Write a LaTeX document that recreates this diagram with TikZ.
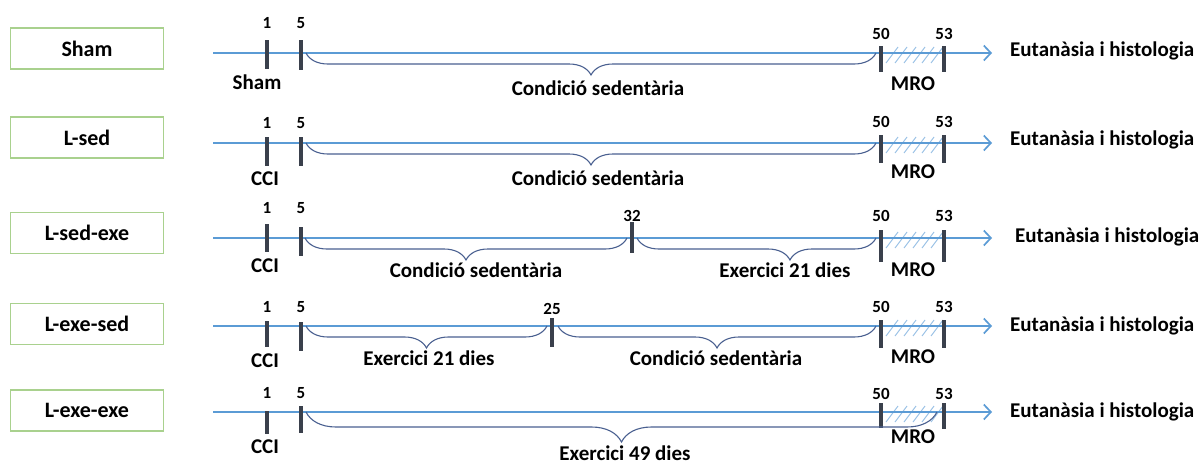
\documentclass[tikz,border=0pt]{standalone}
\usepackage{fontspec}
\setmainfont{Carlito}
\usetikzlibrary{arrows.meta,decorations.pathreplacing}

\definecolor{axisblue}{HTML}{5B9BD5}
\definecolor{hatchblue}{HTML}{9DC3E6}
\definecolor{tickgray}{HTML}{3A404C}
\definecolor{bracegray}{HTML}{4A6090}
\definecolor{boxgreen}{HTML}{A9D18E}

% day tick: name, x, top, bottom, label, label y
\newcommand{\daytick}[6]{%
  \draw[tick] (#2,#3) coordinate (#1a) -- (#2,#4) coordinate (#1b);
  \node[num] (#1n) at (#2,#6) {#5};}
% MRO hatch between day 50 and day 53, centre line y
\newcommand{\mrohatch}[1]{%
  \foreach \h in {0,...,5} {\draw[hatch] (886+\h*9,#1+10) -- (898+\h*9,#1-6);}}

\begin{document}
\begin{tikzpicture}[x=1pt,y=-1pt,
  axis/.style={draw=axisblue, line width=1.7pt, -{Straight Barb[length=7pt,width=15pt,line width=1.7pt]}},
  tick/.style={draw=tickgray, line width=3.2pt},
  hatch/.style={draw=hatchblue, line width=1pt},
  brc/.style={draw=bracegray, line width=1.1pt, decorate, decoration={brace, mirror, amplitude=#1}},
  brc/.default=22pt,
  grp/.style={draw=boxgreen, line width=1.6pt, fill=white, minimum width=153pt, minimum height=41pt, font=\fontsize{22}{26}\selectfont\bfseries},
  txt/.style={font=\fontsize{21}{25}\selectfont\bfseries, inner sep=0pt},
  num/.style={font=\fontsize{17}{20}\selectfont\bfseries, inner sep=0pt}]
\useasboundingbox (0,0) rectangle (1203,464);

%%%%%%%%%% Sham
\node[grp] (g1) at (87,48.5) {Sham};
\mrohatch{53}
\draw[axis] (213,53) coordinate (s1) -- (992,53) coordinate (e1);
\node[txt, anchor=west] (h1) at (1010,51) {Eutanàsia i histologia};
\daytick{r1d1}{267}{40}{69}{1}{23}
\daytick{r1d5}{301}{40}{70}{5}{23}
\daytick{r1d50}{881}{46}{72}{50}{34}
\daytick{r1d53}{944}{46}{72}{53}{34}
\node[txt] (ev1) at (257,82) {Sham};
\node[txt] (m1) at (913,84) {MRO};
\coordinate (b1a) at (306,53); \coordinate (b1b) at (876,53);
\draw[brc] (b1a) -- (b1b);
\node[txt] (c1) at (598,88) {Condició sedentària};

%%%%%%%%%% L-sed
\node[grp] (g2) at (87,137.5) {L-sed};
\mrohatch{143}
\draw[axis] (213,143) coordinate (s2) -- (992,143) coordinate (e2);
\node[txt, anchor=west] (h2) at (1010,140) {Eutanàsia i histologia};
\daytick{r2d1}{267}{137}{166}{1}{123}
\daytick{r2d5}{301}{137}{166}{5}{123}
\daytick{r2d50}{881}{135}{163}{50}{122}
\daytick{r2d53}{944}{135}{163}{53}{122}
\node[txt] (ev2) at (265,179) {CCI};
\node[txt] (m2) at (913,172) {MRO};
\coordinate (b2a) at (306,143); \coordinate (b2b) at (876,143);
\draw[brc] (b2a) -- (b2b);
\node[txt] (c2) at (598,178) {Condició sedentària};

%%%%%%%%%% L-sed-exe
\node[grp] (g3) at (87,233) {L-sed-exe};
\mrohatch{238}
\draw[axis] (213,238) coordinate (s3) -- (992,238) coordinate (e3);
\node[txt, anchor=west] (h3) at (1015,237) {Eutanàsia i histologia};
\daytick{r3d1}{267}{224}{252}{1}{208}
\daytick{r3d5}{301}{227}{256}{5}{208}
\daytick{r3d32}{632}{222}{253}{32}{216}
\daytick{r3d50}{881}{230}{262}{50}{216}
\daytick{r3d53}{944}{230}{262}{53}{216}
\node[txt] (ev3) at (265,266) {CCI};
\node[txt] (m3) at (913,270) {MRO};
\coordinate (b3a) at (305,238); \coordinate (b3b) at (627,238);
\coordinate (b3c) at (637,238); \coordinate (b3d) at (876,238);
\draw[brc] (b3a) -- (b3b);
\draw[brc, decoration={aspect=0.64}] (b3c) -- (b3d);
\node[txt] (c3) at (476,270) {Condició sedentària};
\node[txt] (x3) at (785,270) {Exercici 21 dies};

%%%%%%%%%% L-exe-sed
\node[grp] (g4) at (87,324) {L-exe-sed};
\mrohatch{326}
\draw[axis] (213,326) coordinate (s4) -- (992,326) coordinate (e4);
\node[txt, anchor=west] (h4) at (1010,326) {Eutanàsia i histologia};
\daytick{r4d1}{267}{321}{347}{1}{307}
\daytick{r4d5}{301}{322}{351}{5}{307}
\daytick{r4d25}{552}{318}{347}{25}{309}
\daytick{r4d50}{881}{320}{348}{50}{307}
\daytick{r4d53}{944}{320}{348}{53}{307}
\node[txt] (ev4) at (265,361) {CCI};
\node[txt] (m4) at (913,357) {MRO};
\coordinate (b4a) at (306,326); \coordinate (b4b) at (547,326);
\coordinate (b4c) at (558,326); \coordinate (b4d) at (876,326);
\draw[brc] (b4a) -- (b4b);
\draw[brc] (b4c) -- (b4d);
\node[txt] (x4) at (429,358) {Exercici 21 dies};
\node[txt] (c4) at (716,358) {Condició sedentària};

%%%%%%%%%% L-exe-exe
\node[grp] (g5) at (87,410.5) {L-exe-exe};
\mrohatch{412}
\draw[axis] (213,412) coordinate (s5) -- (992,412) coordinate (e5);
\node[txt, anchor=west] (h5) at (1010,412) {Eutanàsia i histologia};
\daytick{r5d1}{267}{411}{434}{1}{393}
\daytick{r5d5}{301}{406}{433}{5}{393}
\daytick{r5d50}{881}{403}{428}{50}{394}
\daytick{r5d53}{944}{403}{429}{53}{394}
\node[txt] (ev5) at (265,447) {CCI};
\node[txt] (m5) at (913,437) {MRO};
\coordinate (b5a) at (306,412); \coordinate (b5b) at (937,412);
\draw[brc=30pt] (b5a) -- (b5b);
\node[txt] (x5) at (625,453) {Exercici 49 dies};

\end{tikzpicture}
\end{document}
